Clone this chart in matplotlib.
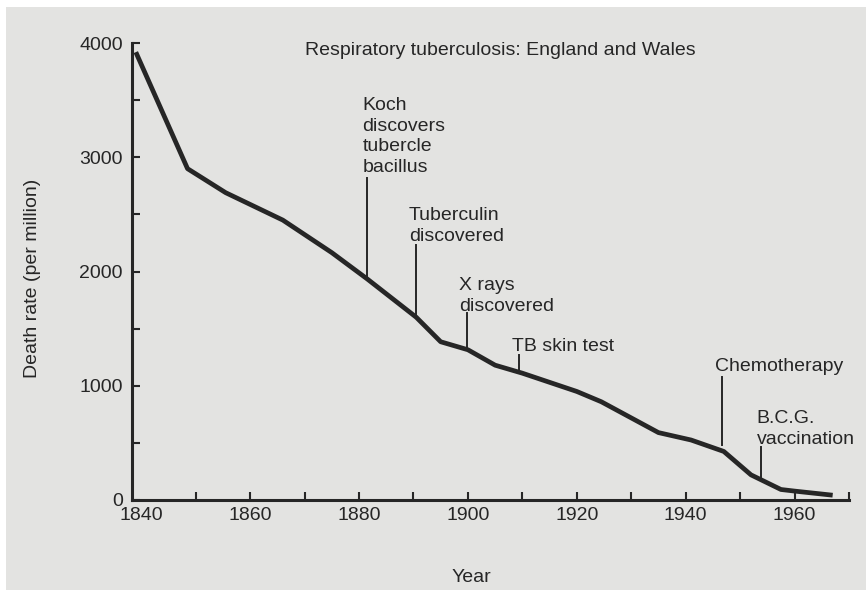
import matplotlib
matplotlib.use('Agg')
import matplotlib.pyplot as plt
from matplotlib.patches import Rectangle

# death rate per million
years = [1839, 1848.5, 1855.5, 1866, 1875, 1881.5, 1890.5, 1895, 1900, 1905,
         1910, 1915, 1920, 1924.5, 1935, 1941, 1947, 1952, 1957.5, 1960, 1967]
rates = [3920, 2900, 2690, 2450, 2165, 1935, 1600, 1385, 1315, 1180,
         1110, 1030, 950, 860, 590, 525, 425, 220, 92, 78, 42]

event_labels = ['Koch\ndiscovers\ntubercle\nbacillus', 'Tuberculin\ndiscovered',
                'X rays\ndiscovered', 'TB skin test', 'Chemotherapy',
                'B.C.G.\nvaccination']
event_years = [1881.5, 1890.5, 1899.8, 1909.4, 1946.6, 1953.8]
event_low = [1935, 1600, 1330, 1138, 481, 205]
event_high = [2818, 2232, 1637, 1269, 1077, 464]
# label anchors (left x, top y) in data units
label_x = [1880.6, 1889.2, 1898.3, 1908.1, 1945.3, 1953.0]
label_y = [3527, 2565, 1952, 1418, 1243, 788]

ytick_vals = [0, 1000, 2000, 3000, 4000]
yminor_vals = [500, 1500, 2500, 3500]
xtick_vals = [1840, 1860, 1880, 1900, 1920, 1940, 1960]
xminor_vals = [1850, 1870, 1890, 1910, 1930, 1950, 1970]

ink = '#262626'
paper = '#e3e3e1'
plt.rcParams['font.family'] = ['Liberation Sans', 'DejaVu Sans']
plt.rcParams['font.size'] = 14

fig = plt.figure(figsize=(8.66, 5.90), dpi=100)
fig.patch.set_facecolor('white')
fig.patches.append(Rectangle((6 / 866, 0), 1, 1 - 7 / 590, transform=fig.transFigure,
                             facecolor=paper, edgecolor='none', zorder=-10))

ax = fig.add_axes([132 / 866, 90 / 590, 717 / 866, 457 / 590])
ax.set_facecolor('none')

ax.plot(years, rates, color=ink, lw=3.4, solid_joinstyle='round', solid_capstyle='butt')

for x, lo, hi in zip(event_years, event_low, event_high):
    ax.plot([x, x], [lo, hi], color=ink, lw=1.4)
for txt, x, y in zip(event_labels, label_x, label_y):
    ax.text(x, y, txt, ha='left', va='top', color=ink, linespacing=1.28)

ax.set_xlim(1838.3, 1970)
ax.set_ylim(0, 4000)

for s in ['top', 'right']:
    ax.spines[s].set_visible(False)
for s in ['left', 'bottom']:
    ax.spines[s].set_linewidth(2.2)
    ax.spines[s].set_color(ink)

ax.set_xticks(xtick_vals)
ax.set_xticks(xminor_vals, minor=True)
ax.set_yticks(ytick_vals)
ax.set_yticks(yminor_vals, minor=True)
ax.tick_params(which='both', direction='in', length=6, width=1.5, color=ink,
               labelcolor=ink)
ax.tick_params(axis='y', pad=6.5)
ax.tick_params(axis='x', pad=5)
ax.xaxis.get_major_ticks()[0].tick1line.set_visible(False)

fig.text(305 / 866, 1 - 42 / 590, 'Respiratory tuberculosis: England and Wales',
         ha='left', va='top', color=ink)
fig.text(33 / 866, 1 - 278 / 590, 'Death rate (per million)', rotation=90,
         ha='center', va='center', color=ink)
fig.text(471 / 866, 8 / 590, 'Year', ha='center', va='baseline', color=ink)

fig.savefig('out.png', dpi=100, facecolor=fig.get_facecolor())
